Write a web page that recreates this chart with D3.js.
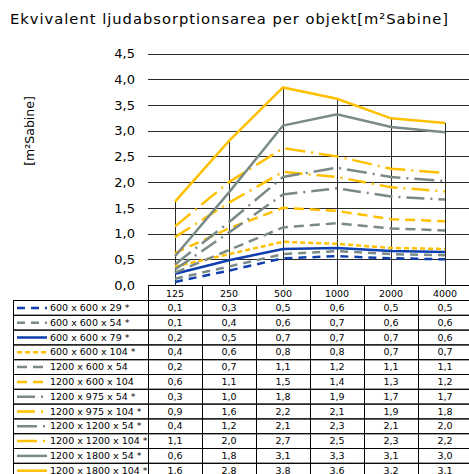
<!DOCTYPE html>
<html><head><meta charset="utf-8">
<script src="https://cdn.jsdelivr.net/npm/d3@7"></script>
<style>
html,body{margin:0;padding:0;background:#fff;overflow:hidden}
text{font-family:"DejaVu Sans",Verdana,sans-serif;fill:#000}
</style></head>
<body>
<svg id="c" width="469" height="474"></svg>
<script>
const title = "Ekvivalent ljudabsorptionsarea per objekt[m²Sabine]";
const yLabel = "[m²Sabine]";
const categories = ["125","250","500","1000","2000","4000"];
const yTicks = [0,0.5,1,1.5,2,2.5,3,3.5,4,4.5];
const seriesNames = ["600 x 600 x 29 *","600 x 600 x 54 *","600 x 600 x 79 *","600 x 600 x 104 *",
  "1200 x 600 x 54","1200 x 600 x 104","1200 x 975 x 54 *","1200 x 975 x 104 *",
  "1200 x 1200 x 54 *","1200 x 1200 x 104 *","1200 x 1800 x 54 *","1200 x 1800 x 104 *"];
const s600x600x29  = [0.06,0.28,0.52,0.56,0.52,0.50];
const s600x600x54  = [0.12,0.36,0.60,0.66,0.60,0.58];
const s600x600x79  = [0.22,0.48,0.70,0.72,0.66,0.64];
const s600x600x104 = [0.36,0.60,0.84,0.80,0.72,0.70];
const s1200x600x54  = [0.24,0.68,1.12,1.20,1.10,1.06];
const s1200x600x104 = [0.62,1.10,1.50,1.44,1.28,1.24];
const s1200x975x54  = [0.30,1.02,1.76,1.88,1.72,1.66];
const s1200x975x104 = [0.93,1.60,2.20,2.10,1.90,1.82];
const s1200x1200x54  = [0.40,1.22,2.10,2.28,2.10,2.02];
const s1200x1200x104 = [1.14,2.00,2.66,2.50,2.26,2.18];
const s1200x1800x54  = [0.56,1.80,3.10,3.32,3.07,2.97];
const s1200x1800x104 = [1.62,2.80,3.84,3.62,3.24,3.15];
const seriesValues = [s600x600x29,s600x600x54,s600x600x79,s600x600x104,s1200x600x54,s1200x600x104,
  s1200x975x54,s1200x975x104,s1200x1200x54,s1200x1200x104,s1200x1800x54,s1200x1800x104];

const BLUE="#0f3fae", GRAY="#7a8a87", YEL="#ffc000";
const styles = [
  {c:BLUE,d:"8,6"},{c:GRAY,d:"8,6"},{c:BLUE,d:null},{c:YEL,d:"5,3"},
  {c:GRAY,d:"10,6"},{c:YEL,d:"10,6"},{c:GRAY,d:"18,6,2,6"},{c:YEL,d:"18,6,2,6"},
  {c:GRAY,d:"20,6,2,6"},{c:YEL,d:"20,6,2,6"},{c:GRAY,d:null},{c:YEL,d:null}
];

const svg = d3.select("#c");
const L=148, R=472, T=53.5, B=285;
const x = d3.scalePoint().domain(categories).range([L,R]).padding(0.5);
const xb = d3.scaleBand().domain(categories).range([L,R]).padding(0);
const y = d3.scaleLinear().domain([0,4.5]).range([B,T]);
const fmt = v => d3.format(".1f")(v).replace(".",",");

svg.append("text").attr("x",10).attr("y",24).style("font-size","14.7px")
  .attr("textLength",438).attr("lengthAdjust","spacing").text(title);
svg.append("text").attr("transform","translate(34,131) rotate(-90)").attr("text-anchor","middle")
  .style("font-size","12.5px").text(yLabel);

// gridlines
svg.append("g").selectAll("line").data(yTicks).join("line")
  .attr("x1",L).attr("x2",R).attr("y1",d=>Math.round(y(d))+0.5).attr("y2",d=>Math.round(y(d))+0.5)
  .attr("stroke","#2a2a2a").attr("stroke-width",1);

// y axis labels
const ya = svg.append("g").attr("transform",`translate(${L},0)`)
  .call(d3.axisLeft(y).tickValues(yTicks).tickSize(0).tickPadding(13).tickFormat(fmt));
ya.select(".domain").remove();
ya.selectAll("text").style("font-size","13px").style("font-family","DejaVu Sans");

// drop lines
svg.append("g").selectAll("line").data(categories).join("line")
  .attr("x1",d=>Math.round(x(d))+0.5).attr("x2",d=>Math.round(x(d))+0.5)
  .attr("y1",(d,i)=>y(d3.max(seriesValues,s=>s[i]))).attr("y2",B)
  .attr("stroke","#2a2a2a").attr("stroke-width",1);

// lines
const line = d3.line().x((d,i)=>x(categories[i])).y(d=>y(d));
svg.append("g").selectAll("path").data(seriesValues).join("path")
  .attr("d",line).attr("fill","none")
  .attr("stroke",(d,i)=>styles[i].c).attr("stroke-width",2.5)
  .attr("stroke-dasharray",(d,i)=>styles[i].d);

// table
const rowH = 14.8, headTop = B, headH = 15, rowTop = 300;
const tg = svg.append("g");
tg.selectAll("rect.h").data(categories).join("rect")
  .attr("x",d=>xb(d)+0.5).attr("y",headTop+0.5).attr("width",xb.bandwidth()).attr("height",headH)
  .attr("fill","none").attr("stroke","#000");
tg.selectAll("text.h").data(categories).join("text")
  .attr("x",d=>xb(d)+xb.bandwidth()/2).attr("y",headTop+11.5).attr("text-anchor","middle")
  .style("font-size","9.5px").text(d=>d);
const rows = tg.selectAll("g.r").data(seriesNames).join("g")
  .attr("transform",(d,i)=>`translate(0,${rowTop+i*rowH})`);
rows.append("rect").attr("x",13.5).attr("y",0.5).attr("width",L-13).attr("height",rowH)
  .attr("fill","none").attr("stroke","#000");
rows.append("line").attr("x1",17).attr("x2",47).attr("y1",rowH/2+0.5).attr("y2",rowH/2+0.5)
  .attr("stroke",(d,i)=>styles[i].c).attr("stroke-width",2.5)
  .attr("stroke-dasharray",(d,i)=>styles[i].d);
rows.append("text").attr("x",50).attr("y",rowH/2+3.6).style("font-size","9.5px").text(d=>d);
rows.each(function(name,i){
  const g=d3.select(this);
  g.selectAll("rect.v").data(seriesValues[i]).join("rect")
    .attr("x",(d,j)=>xb(categories[j])+0.5).attr("y",0.5).attr("width",xb.bandwidth()).attr("height",rowH)
    .attr("fill","none").attr("stroke","#000");
  g.selectAll("text.v").data(seriesValues[i]).join("text")
    .attr("x",(d,j)=>xb(categories[j])+xb.bandwidth()/2).attr("y",rowH/2+3.6)
    .attr("text-anchor","middle").style("font-size","9.5px").text(d=>fmt(d));
});
</script>
</body></html>
